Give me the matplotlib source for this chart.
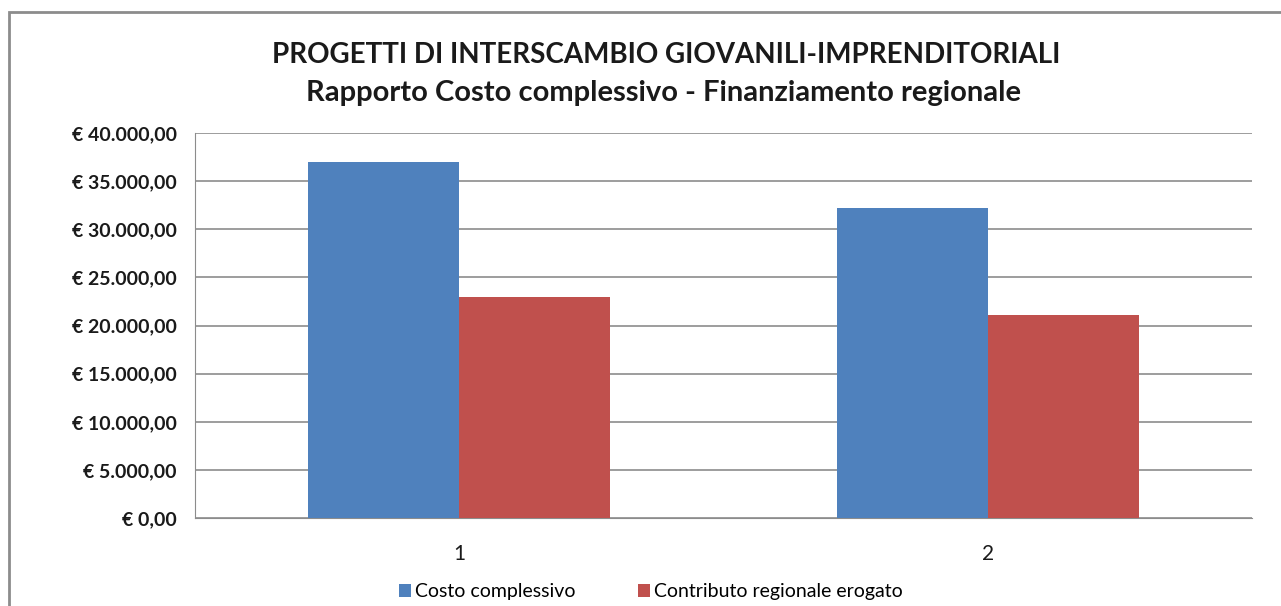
import matplotlib.pyplot as plt
import numpy as np
from matplotlib.patches import Rectangle

# data
categories = ['1', '2']
costo = [37000, 32200]
contributo = [23000, 21100]
series_names = ['Costo complessivo', 'Contributo regionale erogato']
yticks = [0, 5000, 10000, 15000, 20000, 25000, 30000, 35000, 40000]

plt.rcParams['font.family'] = ['Lato', 'DejaVu Sans']

W, H = 1281, 606
fig = plt.figure(figsize=(W / 100, H / 100), dpi=100)

# outer chart frame (cut at right and bottom like the screenshot)
fig.patches.append(Rectangle((9 / W, -0.1), 1.2, 1 - 12 / H + 0.1, transform=fig.transFigure,
                             fill=False, edgecolor='#8c8c8c', linewidth=2))

ax = fig.add_axes([195 / W, 1 - 518 / H, (1252 - 195) / W, (518 - 133) / H])

x = np.arange(len(categories))
bw = 0.286
ax.bar(x - bw / 2, costo, bw, color='#4F81BD', label=series_names[0], zorder=3)
ax.bar(x + bw / 2, contributo, bw, color='#C0504D', label=series_names[1], zorder=3)

ax.set_xlim(-0.5, 1.5)
ax.set_ylim(0, 40000)
ax.set_yticks(yticks)
ax.set_yticklabels(['€ ' + f'{v:,.2f}'.replace(',', 'X').replace('.', ',').replace('X', '.') for v in yticks],
                   fontsize=14, fontweight='bold', color='#1a1a1a')
ax.set_xticks(x)
ax.set_xticklabels(categories, fontsize=15, color='#1a1a1a')
ax.tick_params(axis='both', length=0)
ax.tick_params(axis='y', pad=13)
ax.tick_params(axis='x', pad=19)
ax.yaxis.grid(True, color='#8c8c8c', linewidth=1.2, zorder=0)
for s in ['top', 'right']:
    ax.spines[s].set_visible(False)
ax.spines['left'].set_color('#8c8c8c')
ax.spines['bottom'].set_color('#8c8c8c')

fig.text(666 / W, 1 - 63 / H, 'PROGETTI DI INTERSCAMBIO GIOVANILI-IMPRENDITORIALI',
         ha='center', va='baseline', fontsize=20, fontweight='bold', color='#1a1a1a')
fig.text(664 / W, 1 - 101 / H, 'Rapporto Costo complessivo - Finanziamento regionale',
         ha='center', va='baseline', fontsize=21, fontweight='bold', color='#1a1a1a')

fig.legend(loc='center', bbox_to_anchor=(651 / W, 1 - 592 / H), ncol=2, frameon=False,
           fontsize=14, handlelength=0.62, handleheight=0.62, handletextpad=0.2,
           columnspacing=3.2, borderpad=0)

fig.savefig('out.png', dpi=100)
